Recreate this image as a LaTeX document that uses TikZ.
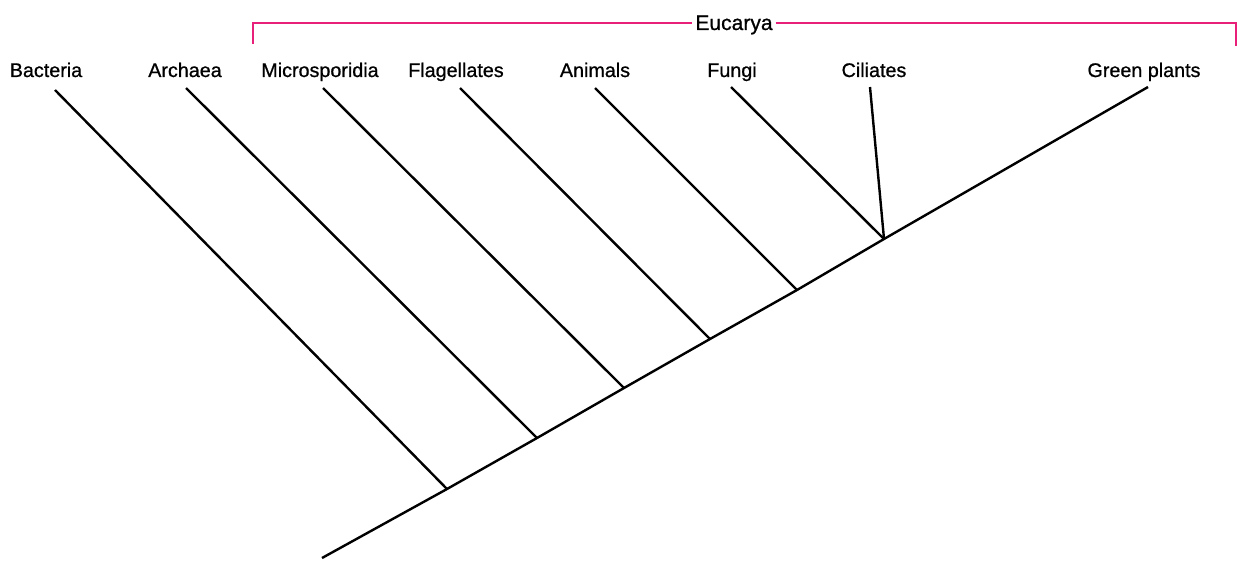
\documentclass[tikz,border=0pt]{standalone}
\usepackage{fontspec}
\setmainfont[FakeBold=0.8]{Liberation Sans}
\definecolor{brack}{RGB}{232,32,122}
\begin{document}
\begin{tikzpicture}[x=0.75pt,y=-0.75pt,
  lab/.style={anchor=base,inner sep=0pt,font=\fontsize{14.8pt}{16pt}\selectfont},
  branch/.style={draw=black,line width=1.8pt},
  brk/.style={draw=brack,line width=1.6pt}]
\useasboundingbox (0,0) rectangle (1237,560);
% labels
\node[lab] (bac) at (46,77) {Bacteria};
\node[lab] (arc) at (185,77) {Archaea};
\node[lab] (mic) at (320,77) {Microsporidia};
\node[lab] (fla) at (456,77) {Flagellates};
\node[lab] (ani) at (595,77) {Animals};
\node[lab] (fun) at (732,77) {Fungi};
\node[lab] (cil) at (874,77) {Ciliates};
\node[lab] (gre) at (1144,77) {Green plants};
\node[lab,font=\fontsize{15.8pt}{17pt}\selectfont,inner xsep=2pt] (euc) at (734,30) {Eucarya};
% branch tips
\coordinate (tbac) at (55,90);
\coordinate (tarc) at (186,88);
\coordinate (tmic) at (323,88);
\coordinate (tfla) at (460,88);
\coordinate (tani) at (595,88);
\coordinate (tfun) at (731,87);
\coordinate (tcil) at (870,87);
\coordinate (tgre) at (1148,87);
% junctions
\coordinate (root) at (322,558);
\coordinate (jbac) at (447,489);
\coordinate (jarc) at (537,438);
\coordinate (jmic) at (624,388);
\coordinate (jfla) at (710,339);
\coordinate (jani) at (797,290);
\coordinate (jfun) at (884,239);
% trunk
\draw[branch] (root) -- (jbac) -- (jarc) -- (jmic) -- (jfla) -- (jani) -- (jfun) -- (tgre);
% branches
\draw[branch] (tbac) -- (jbac);
\draw[branch] (tarc) -- (jarc);
\draw[branch] (tmic) -- (jmic);
\draw[branch] (tfla) -- (jfla);
\draw[branch] (tani) -- (jani);
\draw[branch] (tfun) -- (jfun);
\draw[branch] (tcil) -- (jfun);
% bracket
\coordinate (bl) at (253,44);
\coordinate (br) at (1236,46);
\draw[brk] (bl) |- (euc.west |- 0,23);
\draw[brk] (euc.east |- 0,23) -| (br);
\end{tikzpicture}
\end{document}
